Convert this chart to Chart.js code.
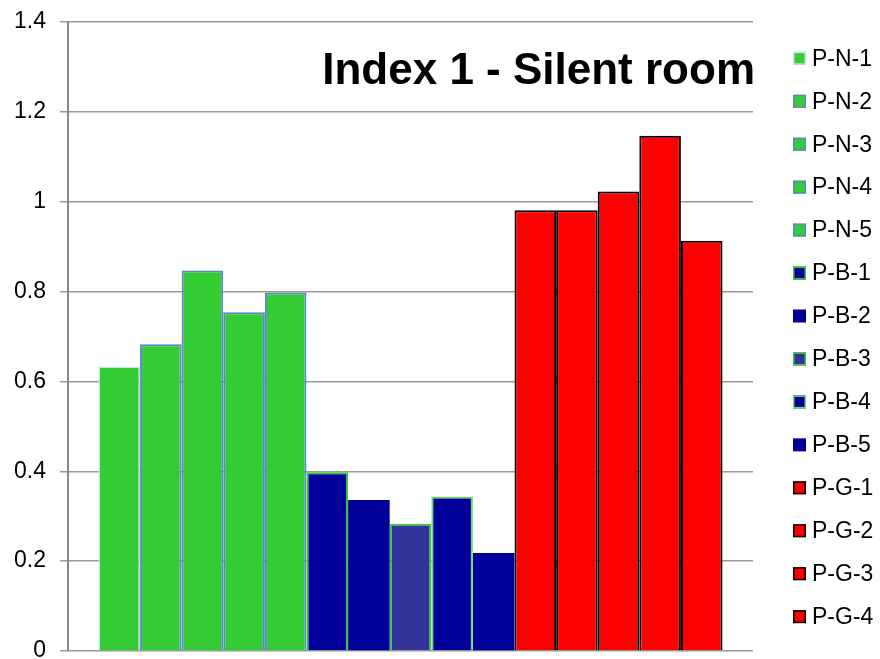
<!DOCTYPE html>
<html>
<head>
<meta charset="utf-8">
<title>Index 1 - Silent room</title>
<script src="https://cdn.jsdelivr.net/npm/chart.js@4"></script>
<style>
  html, body { margin: 0; padding: 0; background: #fff; overflow: hidden; }
  #wrap { position: relative; width: 880px; height: 672px; }
</style>
</head>
<body>
<div id="wrap"><canvas id="chart"></canvas></div>
<script>
// Series names and their index values
const seriesNames = [
  'P-N-1', 'P-N-2', 'P-N-3', 'P-N-4', 'P-N-5',
  'P-B-1', 'P-B-2', 'P-B-3', 'P-B-4', 'P-B-5',
  'P-G-1', 'P-G-2', 'P-G-3', 'P-G-4', 'P-G-5'
];
const seriesValues = [
  0.633, 0.683, 0.847, 0.754, 0.798,
  0.398, 0.336, 0.283, 0.344, 0.218,
  0.981, 0.981, 1.023, 1.147, 0.913
];
const categories = [''];
const yTickValues = [0, 0.2, 0.4, 0.6, 0.8, 1, 1.2, 1.4];
const yTickLabels = ['0', '0.2', '0.4', '0.6', '0.8', '1', '1.2', '1.4'];
const chartTitle = 'Index 1 - Silent room';
const legendShown = 14;

// Styling per series
const GREEN = '#33cc33', BLUE = '#000099', PURPLE = '#333399', RED = '#ff0000';
const fillColors = [
  GREEN, GREEN, GREEN, GREEN, GREEN,
  BLUE, BLUE, PURPLE, BLUE, BLUE,
  RED, RED, RED, RED, RED
];
const edgeColors = [
  '#c3e4e6', '#5b87c8', '#5b87c8', '#5b87c8', '#5b87c8',
  '#33cc33', BLUE, '#33cc33', '#66dd66', BLUE,
  '#000000', '#000000', '#000000', '#000000', '#000000'
];
const edgeWidths = [
  1.5, 2, 2, 2, 2,
  2, 0, 2, 2, 0,
  2, 2, 2, 2, 2
];

const FONT = '"Liberation Sans", Arial, Helvetica, sans-serif';

const datasets = seriesNames.map((name, i) => ({
  label: name,
  data: [seriesValues[i]],
  backgroundColor: fillColors[i],
  borderColor: edgeColors[i],
  borderWidth: edgeWidths[i],
  categoryPercentage: 0.911,
  barPercentage: 1.0
}));

// Title inside the plot and the legend column on the right
const overlay = {
  id: 'overlay',
  afterDraw(chart) {
    const { ctx, chartArea } = chart;
    ctx.save();
    ctx.fillStyle = '#000';
    ctx.font = 'bold 44px ' + FONT;
    ctx.textAlign = 'right';
    ctx.textBaseline = 'alphabetic';
    ctx.fillText(chartTitle, chartArea.right + 2, 84);

    ctx.font = '23px ' + FONT;
    ctx.textAlign = 'left';
    ctx.textBaseline = 'middle';
    const x0 = chartArea.right + 40;
    const box = 13;
    for (let i = 0; i < legendShown; i++) {
      const ds = chart.data.datasets[i];
      const y = 58.3 + i * 42.95;
      ctx.fillStyle = ds.backgroundColor;
      ctx.fillRect(x0, y - box / 2, box, box);
      if (ds.borderWidth > 0) {
        ctx.lineWidth = 1.5;
        ctx.strokeStyle = ds.borderColor;
        ctx.strokeRect(x0 + 0.75, y - box / 2 + 0.75, box - 1.5, box - 1.5);
      }
      ctx.fillStyle = '#000';
      ctx.fillText(ds.label, x0 + 19, y + 1);
    }
    ctx.restore();
  }
};

new Chart(document.getElementById('chart'), {
  type: 'bar',
  data: { labels: categories, datasets },
  options: {
    responsive: true,
    maintainAspectRatio: false,
    animation: false,
    layout: { padding: { top: 22, left: 0, right: 127, bottom: 21 } },
    plugins: {
      legend: { display: false },
      title: { display: false },
      tooltip: { enabled: false }
    },
    scales: {
      x: { display: false },
      y: {
        min: 0,
        max: 1.4,
        afterBuildTicks: (scale) => { scale.ticks = yTickValues.map(v => ({ value: v })); },
        ticks: {
          font: { family: FONT, size: 23, lineHeight: 0.5 },
          color: '#000',
          padding: 14,
          callback: (value, index) => yTickLabels[index]
        },
        grid: { color: '#9a9a9a', lineWidth: 1.5, tickLength: 8 },
        border: { color: '#8a8a8a', width: 2 }
      }
    }
  },
  plugins: [overlay]
});
</script>
</body>
</html>
